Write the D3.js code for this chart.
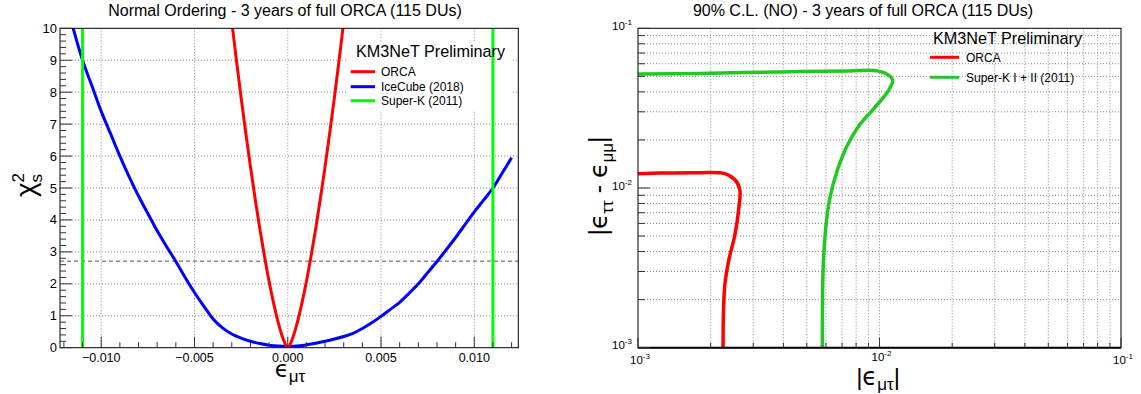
<!DOCTYPE html>
<html><head><meta charset="utf-8">
<script src="https://cdn.jsdelivr.net/npm/d3@7"></script>
<style>
body{margin:0;background:#fff}
svg{display:block}
text{font-family:"Liberation Sans",Arial,Helvetica,sans-serif;fill:#000}
.gk{font-family:"DejaVu Sans","Liberation Sans",sans-serif}
</style>
</head><body>
<svg id="c" width="1141" height="394"></svg>
<script>
// ---------------- DATA ----------------
// Left panel: chi2 profiles vs eps_mu_tau
const orcaX    = [-0.00300,-0.00275,-0.00250,-0.00225,-0.00200,-0.00175,-0.00150,-0.00125,-0.00100,-0.00075,-0.00050,-0.00025,0,0.00025,0.00050,0.00075,0.00100,0.00125,0.00150,0.00175,0.00200,0.00225,0.00250,0.00275,0.00300];
const orcaChi2 = [10.2,8.99,7.83,6.72,5.67,4.67,3.73,2.87,2.07,1.37,0.76,0.28,0.0,0.28,0.76,1.37,2.07,2.87,3.73,4.67,5.67,6.72,7.83,8.99,10.2];

const iceX    = [-0.0116,-0.0110,-0.0105,-0.0100,-0.0095,-0.0090,-0.0085,-0.0080,-0.0075,-0.0070,-0.0065,-0.0060,-0.0055,-0.0050,-0.0045,-0.0040,-0.0035,-0.0030,-0.0025,-0.0020,-0.0015,-0.0010,-0.0005,0,0.0005,0.0010,0.0015,0.0020,0.0025,0.0030,0.0035,0.0040,0.0045,0.0050,0.0055,0.0060,0.0065,0.0070,0.0075,0.0080,0.0085,0.0090,0.0095,0.0100,0.0105,0.0110,0.0115,0.0120];
const iceChi2 = [10.2,9.0,8.2,7.4,6.7,6.0,5.35,4.75,4.2,3.66,3.17,2.7,2.2,1.73,1.3,0.9,0.62,0.43,0.3,0.2,0.13,0.08,0.05,0.04,0.05,0.09,0.14,0.2,0.27,0.35,0.45,0.6,0.78,0.98,1.2,1.42,1.7,2.0,2.35,2.7,3.07,3.45,3.85,4.25,4.62,5.0,5.47,5.95];

const superKLimits = [-0.011, 0.011];
const cl90Chi2 = 2.71;

const leftXTicks = [-0.010,-0.005,0.000,0.005,0.010];
const leftXTickLabels = ["\u22120.010","\u22120.005","0.000","0.005","0.010"];
const leftYTicks = [0,1,2,3,4,5,6,7,8,9,10];
const leftYTickLabels = ["0","1","2","3","4","5","6","7","8","9","10"];
const leftLegendNames = ["ORCA","IceCube (2018)","Super-K (2011)"];

// Right panel: 90% CL contours (|eps_mu_tau|, |eps_tautau - eps_mumu|)
const orcaContourX = [0.00100,0.00123,0.00180,0.00229,0.00252,0.00264,0.00261,0.00252,0.00238,0.00229,0.00226,0.00225];
const orcaContourY = [0.01230,0.01240,0.01247,0.01230,0.01127,0.00976,0.00731,0.00510,0.00357,0.00249,0.00173,0.00100];
const superKContourX = [0.00100,0.00180,0.00387,0.00752,0.00953,0.01070,0.01133,0.01080,0.00953,0.00826,0.00738,0.00670,0.00621,0.00598,0.00584,0.00580];
const superKContourY = [0.0518,0.0522,0.0533,0.0541,0.0544,0.0518,0.0475,0.0400,0.0318,0.0248,0.01866,0.0130,0.00845,0.00548,0.00308,0.00100];

const decadeTicks = [0.001,0.01,0.1];
const decadeExponents = ["-3","-2","-1"];
const rightLegendNames = ["ORCA","Super-K I + II (2011)"];

// ---------------- DRAW ----------------
const svg = d3.select("#c");
const GRID = "#8a8a8a";

// ====== LEFT PANEL ======
const L = {x0:60, x1:518.3, y0:28.3, y1:347.7};
const xL = d3.scaleLinear().domain([-0.01221,0.01236]).range([L.x0,L.x1]);
const yL = d3.scaleLinear().domain([0,10]).range([L.y1,L.y0]);
const gL = svg.append("g");
svg.append("clipPath").attr("id","clipL").append("rect")
  .attr("x",L.x0).attr("y",L.y0).attr("width",L.x1-L.x0).attr("height",L.y1-L.y0);

// grid
gL.selectAll(".gx").data(leftXTicks).join("line")
  .attr("x1",d=>xL(d)).attr("x2",d=>xL(d)).attr("y1",L.y0).attr("y2",L.y1)
  .attr("stroke",GRID).attr("stroke-dasharray","1,2").attr("stroke-width",1);
gL.selectAll(".gy").data(leftYTicks.slice(1,-1)).join("line")
  .attr("y1",d=>yL(d)).attr("y2",d=>yL(d)).attr("x1",L.x0).attr("x2",L.x1)
  .attr("stroke",GRID).attr("stroke-dasharray","1,2").attr("stroke-width",1);

// legend box (white, hides grid)
gL.append("rect").attr("x",348).attr("y",42).attr("width",164).attr("height",68).attr("fill","#fff");

// dashed 90% CL line
gL.append("line").attr("x1",L.x0).attr("x2",L.x1).attr("y1",yL(cl90Chi2)).attr("y2",yL(cl90Chi2))
  .attr("stroke","#555").attr("stroke-dasharray","4,3").attr("stroke-width",1);

const lineL = d3.line().x(d=>xL(d[0])).y(d=>yL(d[1])).curve(d3.curveMonotoneX);
const cL = gL.append("g").attr("clip-path","url(#clipL)");
cL.append("path").datum(d3.zip(iceX,iceChi2)).attr("d",lineL)
  .attr("fill","none").attr("stroke","#0000ff").attr("stroke-width",3);
cL.append("path").datum(d3.zip(orcaX,orcaChi2)).attr("d",lineL)
  .attr("fill","none").attr("stroke","#ff0000").attr("stroke-width",3);
cL.selectAll(".sk").data(superKLimits).join("line")
  .attr("x1",d=>xL(d)).attr("x2",d=>xL(d)).attr("y1",L.y0).attr("y2",L.y1)
  .attr("stroke","#00ff00").attr("stroke-width",3);

// frame
gL.append("rect").attr("x",L.x0).attr("y",L.y0).attr("width",L.x1-L.x0).attr("height",L.y1-L.y0)
  .attr("fill","none").attr("stroke","#000").attr("stroke-width",1);

// y ticks
const yMinorL = d3.range(0,10.0001,0.2);
gL.selectAll(".ytm").data(yMinorL).join("line")
  .attr("x1",L.x0).attr("x2",d=>L.x0+(Math.abs(d-Math.round(d))<1e-6?12:6))
  .attr("y1",d=>yL(d)).attr("y2",d=>yL(d)).attr("stroke","#333");
gL.selectAll(".ytl").data(leftYTicks).join("text")
  .attr("x",L.x0-3).attr("y",d=>yL(d)+4.5).attr("text-anchor","end")
  .attr("font-size",13).text((d,i)=>leftYTickLabels[i]);

// x ticks
const xMinorL = d3.range(-12,12.5,1).map(v=>v/1000);
gL.selectAll(".xtm").data(xMinorL).join("line")
  .attr("x1",d=>xL(d)).attr("x2",d=>xL(d)).attr("y1",L.y1)
  .attr("y2",d=>L.y1-(Math.abs(d*1000)%5<1e-6?11:5.5)).attr("stroke","#333");
gL.selectAll(".xtl").data(leftXTicks).join("text")
  .attr("x",d=>xL(d)).attr("y",362).attr("text-anchor","middle")
  .attr("font-size",12.5).text((d,i)=>leftXTickLabels[i]);

// titles
svg.append("text").attr("x",285).attr("y",16).attr("text-anchor","middle").attr("font-size",16)
  .text("Normal Ordering - 3 years of full ORCA (115 DUs)");
{
  const t = svg.append("text").attr("x",290).attr("y",377).attr("text-anchor","middle").attr("font-size",23);
  t.append("tspan").attr("class","gk").text("\u03F5");
  t.append("tspan").attr("font-size",17).attr("dy",5).text("\u03BC\u03C4");
}
{
  const t = svg.append("text").attr("transform","translate(35,185) rotate(-90)").attr("text-anchor","middle").attr("font-size",28);
  t.append("tspan").text("\u03C7");
  t.append("tspan").attr("font-size",17).attr("dy",-11).text("2");
  t.append("tspan").attr("font-size",17).attr("dx",-9.5).attr("dy",18).text("s");
}
svg.append("text").attr("x",356).attr("y",57).attr("font-size",16.2).text("KM3NeT Preliminary");
const legColL = ["#ff0000","#0000ff","#00ff00"];
const legYL = [71.7,86.7,100.7];
leftLegendNames.forEach((n,i)=>{
  svg.append("line").attr("x1",350.7).attr("x2",375).attr("y1",legYL[i]).attr("y2",legYL[i])
    .attr("stroke",legColL[i]).attr("stroke-width",3);
  svg.append("text").attr("x",381).attr("y",legYL[i]+4.3).attr("font-size",12).text(n);
});

// ====== RIGHT PANEL ======
const R = {x0:638, x1:1121, y0:28.3, y1:347.7};
const xR = d3.scaleLog().domain([0.001,0.1]).range([R.x0,R.x1]);
const yR = d3.scaleLog().domain([0.001,0.1]).range([R.y1,R.y0]);
const gR = svg.append("g");
svg.append("clipPath").attr("id","clipR").append("rect")
  .attr("x",R.x0).attr("y",R.y0).attr("width",R.x1-R.x0).attr("height",R.y1-R.y0);

const logAll = [];
[0.001,0.01].forEach(b=>{for(let k=1;k<=9;k++) logAll.push(b*k);});
logAll.push(0.1);
const logGrid = logAll.filter(v=>v>0.0010001 && v<0.0999);

gR.selectAll(".gx").data(logGrid).join("line")
  .attr("x1",d=>xR(d)).attr("x2",d=>xR(d)).attr("y1",R.y0).attr("y2",R.y1)
  .attr("stroke",GRID).attr("stroke-dasharray","1,2");
gR.selectAll(".gy").data(logGrid).join("line")
  .attr("y1",d=>yR(d)).attr("y2",d=>yR(d)).attr("x1",R.x0).attr("x2",R.x1)
  .attr("stroke",GRID).attr("stroke-dasharray","1,2");

const lineR = d3.line().x(d=>xR(d[0])).y(d=>yR(d[1])).curve(d3.curveCatmullRom.alpha(0.5));
const cR = gR.append("g").attr("clip-path","url(#clipR)");
cR.append("path").datum(d3.zip(superKContourX,superKContourY)).attr("d",lineR)
  .attr("fill","none").attr("stroke","#22c822").attr("stroke-width",3.5);
cR.append("path").datum(d3.zip(orcaContourX,orcaContourY)).attr("d",lineR)
  .attr("fill","none").attr("stroke","#ff0000").attr("stroke-width",3.5);

gR.append("rect").attr("x",R.x0).attr("y",R.y0).attr("width",R.x1-R.x0).attr("height",R.y1-R.y0)
  .attr("fill","none").attr("stroke","#000").attr("stroke-width",1);
gR.append("line").attr("x1",R.x0).attr("x2",R.x1).attr("y1",R.y1).attr("y2",R.y1).attr("stroke","#000").attr("stroke-width",2);

const isDec = v=>decadeTicks.some(t=>Math.abs(t-v)/t<1e-6);
gR.selectAll(".ytm").data(logAll).join("line")
  .attr("x1",R.x0).attr("x2",d=>R.x0+(isDec(d)?12:7))
  .attr("y1",d=>yR(d)).attr("y2",d=>yR(d)).attr("stroke","#333");
gR.selectAll(".xtm").data(logAll).join("line")
  .attr("x1",d=>xR(d)).attr("x2",d=>xR(d)).attr("y1",R.y1)
  .attr("y2",d=>R.y1-(isDec(d)?10:5)).attr("stroke","#333");

decadeTicks.forEach((v,i)=>{
  const ty = svg.append("text").attr("x",R.x0-26).attr("y",yR(v)+1.5).attr("font-size",11.5);
  ty.append("tspan").text("10");
  ty.append("tspan").attr("font-size",8).attr("dy",-5).text(decadeExponents[i]);
  const tx = svg.append("text").attr("x",xR(v)-8).attr("y",i===1?361:364).attr("font-size",11.5);
  tx.append("tspan").text("10");
  tx.append("tspan").attr("font-size",8).attr("dy",-5).text(decadeExponents[i]);
});

svg.append("text").attr("x",863).attr("y",16).attr("text-anchor","middle").attr("font-size",16)
  .text("90% C.L. (NO) - 3 years of full ORCA (115 DUs)");
{
  const t = svg.append("text").attr("x",878).attr("y",385).attr("text-anchor","middle").attr("font-size",24);
  t.append("tspan").text("|");
  t.append("tspan").attr("class","gk").text("\u03F5");
  t.append("tspan").attr("font-size",17).attr("dy",5).text("\u03BC\u03C4");
  t.append("tspan").attr("dy",-5).text("|");
}
{
  const t = svg.append("text").attr("transform","translate(607,186) rotate(-90)").attr("text-anchor","middle").attr("font-size",25);
  t.append("tspan").text("|");
  t.append("tspan").attr("class","gk").text("\u03F5");
  t.append("tspan").attr("font-size",17).attr("dy",6).text("\u03C4\u03C4");
  t.append("tspan").attr("dy",-6).text(" - ");
  t.append("tspan").attr("class","gk").text("\u03F5");
  t.append("tspan").attr("font-size",17).attr("dy",6).text("\u03BC\u03BC");
  t.append("tspan").attr("dy",-6).text("|");
}
svg.append("text").attr("x",933).attr("y",43.5).attr("font-size",16.2).text("KM3NeT Preliminary");
const legColR = ["#ff0000","#22c822"];
const legYR = [57.3,77.3];
rightLegendNames.forEach((n,i)=>{
  svg.append("line").attr("x1",930).attr("x2",959).attr("y1",legYR[i]).attr("y2",legYR[i])
    .attr("stroke",legColR[i]).attr("stroke-width",3);
  svg.append("text").attr("x",966).attr("y",legYR[i]+4.3).attr("font-size",12).text(n);
});
</script>
</body></html>
